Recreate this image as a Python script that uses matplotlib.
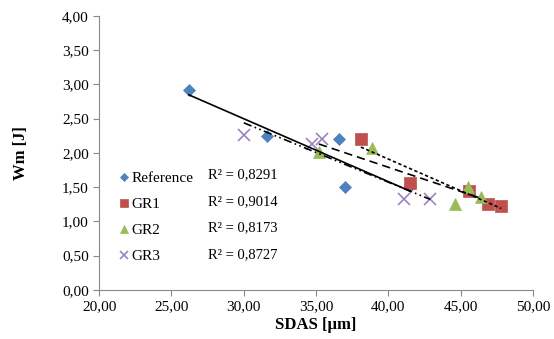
import numpy as np
import matplotlib
matplotlib.use('Agg')
import matplotlib.pyplot as plt
from matplotlib.ticker import FuncFormatter

plt.rcParams['font.family'] = ['Liberation Serif', 'DejaVu Serif']

# data (SDAS [um], Wm [J])
ref_x = [26.2, 31.6, 36.6, 37.0, 41.5]
ref_y = [2.92, 2.25, 2.20, 1.50, 1.52]
gr1_x = [38.1, 41.5, 45.6, 46.9, 47.8]
gr1_y = [2.21, 1.56, 1.45, 1.26, 1.23]
gr2_x = [35.2, 38.9, 44.6, 45.5, 46.4]
gr2_y = [2.02, 2.07, 1.25, 1.50, 1.36]
gr3_x = [30.0, 34.7, 35.4, 41.1, 42.9]
gr3_y = [2.26, 2.13, 2.21, 1.32, 1.32]
names = ['Reference', 'GR1', 'GR2', 'GR3']
r2_labels = ['R² = 0,8291', 'R² = 0,9014', 'R² = 0,8173', 'R² = 0,8727']

xs = [ref_x, gr1_x, gr2_x, gr3_x]
ys = [ref_y, gr1_y, gr2_y, gr3_y]
colors = ['#4F81BD', '#C0504D', '#9BBB59', '#9984C0']
markers = ['D', 's', '^', 'x']
msizes = [6, 9, 9, 8]
trend_styles = ['-', (0, (2, 1.5)), (0, (5, 3)), (0, (5, 2, 1, 2, 1, 2))]

fig = plt.figure(figsize=(5.54, 3.39), dpi=100)
ax = fig.add_axes([0.179, 0.145, 0.783, 0.808])

handles = []
for x, y, c, m, s in zip(xs, ys, colors, markers, msizes):
    h, = ax.plot(x, y, linestyle='none', marker=m, color=c, markersize=s,
                 markeredgewidth=1.2 if m == 'x' else 0.5, zorder=3)
    handles.append(h)

# linear trendlines
for x, y, ls in zip(xs, ys, trend_styles):
    k, b = np.polyfit(x, y, 1)
    xx = np.array([min(x), max(x)])
    ax.plot(xx, k * xx + b, color='black', linestyle=ls, linewidth=1.2, zorder=4)

ax.set_xlim(20, 50)
ax.set_ylim(0, 4)
ax.set_xticks(np.arange(20, 50.1, 5))
ax.set_yticks(np.arange(0, 4.01, 0.5))
fmt = FuncFormatter(lambda v, p: ('%.2f' % v).replace('.', ','))
ax.xaxis.set_major_formatter(fmt)
ax.yaxis.set_major_formatter(fmt)
ax.tick_params(labelsize=11, color='#888888', direction='out', length=4)
for sp in ['top', 'right']:
    ax.spines[sp].set_visible(False)
for sp in ['left', 'bottom']:
    ax.spines[sp].set_color('#888888')

ax.set_xlabel('SDAS [µm]', fontsize=12, fontweight='bold', labelpad=3)
ax.set_ylabel('Wm [J]', fontsize=12, fontweight='bold', labelpad=24)

leg = ax.legend(handles, names, loc='upper left', bbox_to_anchor=(0.025, 0.465),
                frameon=False, fontsize=11, handlelength=0.6, handletextpad=0.2,
                labelspacing=0.8, markerscale=0.7, borderaxespad=0.2)

for i, t in enumerate(r2_labels):
    ax.text(0.25, 0.42 - i * 0.097, t, transform=ax.transAxes, fontsize=10.5,
            va='center', ha='left')

fig.savefig('out.png', dpi=100)
